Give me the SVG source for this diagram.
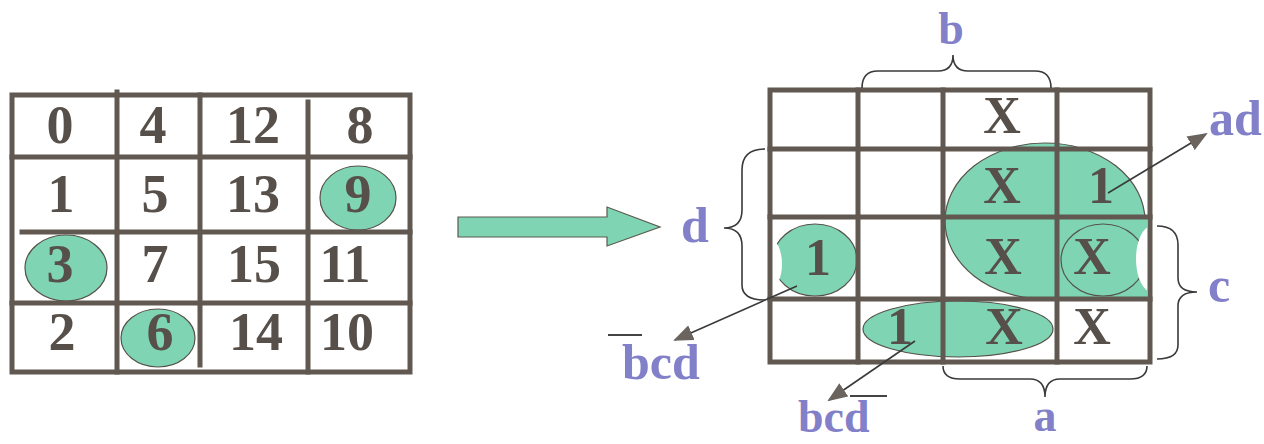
<svg xmlns="http://www.w3.org/2000/svg" width="1264" height="444" viewBox="0 0 1264 444">
<style>
.bg{fill:#ffffff}
.grid{stroke:#615951;stroke-width:5;fill:none;stroke-linecap:square}
.mint{fill:#7fd5b3}
.ol{fill:none;stroke:#55524a;stroke-width:1.2}
.num{font-family:"Liberation Serif","Times New Roman",serif;font-weight:bold;fill:#57504a;text-anchor:middle}
.big{font-size:54px}
.cell{font-size:52px}
.lbl{font-family:"Liberation Serif","Times New Roman",serif;font-weight:bold;font-size:50px;fill:#8280c8}
.edge{font-size:46px}
.brace{fill:none;stroke:#3a3a3a;stroke-width:1.6}
.conn{stroke:#3a3a3a;stroke-width:1.6;fill:none}
.bar{stroke:#444;stroke-width:2}
</style>
<defs>
<marker id="ah" markerWidth="20" markerHeight="16" refX="18" refY="8" orient="auto" markerUnits="userSpaceOnUse">
<path d="M0,0 L20,8 L0,16 z" fill="#6b645e"/>
</marker>
<clipPath id="bigClip"><rect x="940" y="140" width="206" height="159"/></clipPath>
<clipPath id="gridR"><rect x="770" y="90" width="380" height="272"/></clipPath>
</defs>
<rect class="bg" x="0" y="0" width="1264" height="444"/>

<g id="left-map">
<ellipse class="mint" cx="358" cy="198" rx="38" ry="32"/>
<ellipse class="ol" cx="358" cy="198" rx="38" ry="32"/>
<ellipse class="mint" cx="66" cy="268" rx="41" ry="33"/>
<ellipse class="ol" cx="66" cy="268" rx="41" ry="33"/>
<ellipse class="mint" cx="158" cy="338" rx="37" ry="29"/>
<ellipse class="ol" cx="158" cy="338" rx="37" ry="29"/>
<rect class="grid" x="12" y="95" width="398" height="277"/>
<line class="grid" x1="117" y1="92" x2="117" y2="372"/>
<line class="grid" x1="200" y1="95" x2="200" y2="365"/>
<line class="grid" x1="308" y1="102" x2="308" y2="372"/>
<line class="grid" x1="12" y1="157" x2="410" y2="157"/>
<line class="grid" x1="22" y1="232" x2="410" y2="232"/>
<line class="grid" x1="12" y1="303" x2="410" y2="303"/>
<g class="num big">
<text x="60" y="143">0</text><text x="153" y="143">4</text><text x="253" y="143">12</text><text x="360" y="143">8</text>
<text x="61" y="212">1</text><text x="155" y="212">5</text><text x="253" y="212">13</text><text x="358" y="212">9</text>
<text x="60" y="282">3</text><text x="155" y="282">7</text><text x="254" y="282">15</text><text x="345" y="282">11</text>
<text x="62" y="350">2</text><text x="160" y="350">6</text><text x="256" y="350">14</text><text x="347" y="350">10</text>
</g>
</g>

<g id="big-arrow">
<polygon class="mint" points="458,217 607,217 607,207 660,227 607,246 607,237 458,237" stroke="#5a5a50" stroke-width="1.2"/>
</g>

<g id="right-map">
<g clip-path="url(#gridR)">
<g clip-path="url(#bigClip)">
<ellipse class="mint" cx="1045" cy="221" rx="100" ry="78"/>
<ellipse class="ol" cx="1045" cy="221" rx="100" ry="78"/>
</g>
<rect class="mint" x="1057" y="217" width="90" height="82"/>
<ellipse class="ol" cx="1103" cy="260" rx="42" ry="36"/>
<ellipse fill="#ffffff" cx="1152" cy="259" rx="16" ry="33"/>
<ellipse class="mint" cx="815" cy="260" rx="42" ry="36"/>
<ellipse class="ol" cx="815" cy="260" rx="42" ry="36"/>
<ellipse fill="#ffffff" cx="770" cy="264" rx="12" ry="25"/>
<ellipse class="mint" cx="958" cy="329" rx="95" ry="28"/>
<ellipse class="ol" cx="958" cy="329" rx="95" ry="28"/>
</g>
<rect class="grid" x="770" y="90" width="380" height="272"/>
<line class="grid" x1="858" y1="90" x2="858" y2="362"/>
<line class="grid" x1="943" y1="90" x2="943" y2="362"/>
<line class="grid" x1="1057" y1="90" x2="1057" y2="362"/>
<line class="grid" x1="770" y1="149" x2="1150" y2="149"/>
<line class="grid" x1="770" y1="217" x2="1150" y2="217"/>
<line class="grid" x1="770" y1="299" x2="1150" y2="299"/>
<g class="num cell">
<text x="1002" y="133">X</text>
<text x="1002" y="203">X</text><text x="1101" y="203">1</text>
<text x="818" y="275">1</text><text x="1003" y="274">X</text><text x="1092" y="274">X</text>
<text x="900" y="344">1</text><text x="1004" y="344">X</text><text x="1092" y="344">X</text>
</g>
</g>

<g id="braces">
<path class="brace" d="M862,88 Q862,71 878,71 L938,71 Q953,71 953,55 Q953,71 968,71 L1035,71 Q1051,71 1051,88"/>
<path class="brace" d="M765,149 Q742,149 742,170 L742,210 Q742,228 724,228 Q742,228 742,246 L742,285 Q742,300 765,300"/>
<path class="brace" d="M1157,226 Q1178,226 1178,245 L1178,278 Q1178,292 1197,292 Q1178,292 1178,306 L1178,345 Q1178,359 1157,359"/>
<path class="brace" d="M943,366 Q943,379 960,379 L1030,379 Q1045,379 1045,397 Q1045,379 1060,379 L1130,379 Q1147,379 1147,366"/>
</g>

<g id="connectors">
<line class="conn" x1="1108" y1="193" x2="1206" y2="134" marker-end="url(#ah)"/>
<line class="conn" x1="797" y1="286" x2="675" y2="340" marker-end="url(#ah)"/>
<line class="conn" x1="915" y1="341" x2="829" y2="400" marker-end="url(#ah)"/>
</g>

<g id="labels">
<text class="lbl edge" x="951" y="44" text-anchor="middle">b</text>
<text class="lbl" x="695" y="242" text-anchor="middle">d</text>
<text class="lbl" x="1209" y="135">ad</text>
<text class="lbl" x="1219" y="302" text-anchor="middle">c</text>
<text class="lbl edge" x="1045" y="431" text-anchor="middle">a</text>
<text class="lbl" x="622" y="379">bcd</text>
<line class="bar" x1="608" y1="335" x2="642" y2="335"/>
<text class="lbl edge" x="798" y="432">bcd</text>
<line class="bar" x1="850" y1="396" x2="887" y2="396"/>
</g>
</svg>
